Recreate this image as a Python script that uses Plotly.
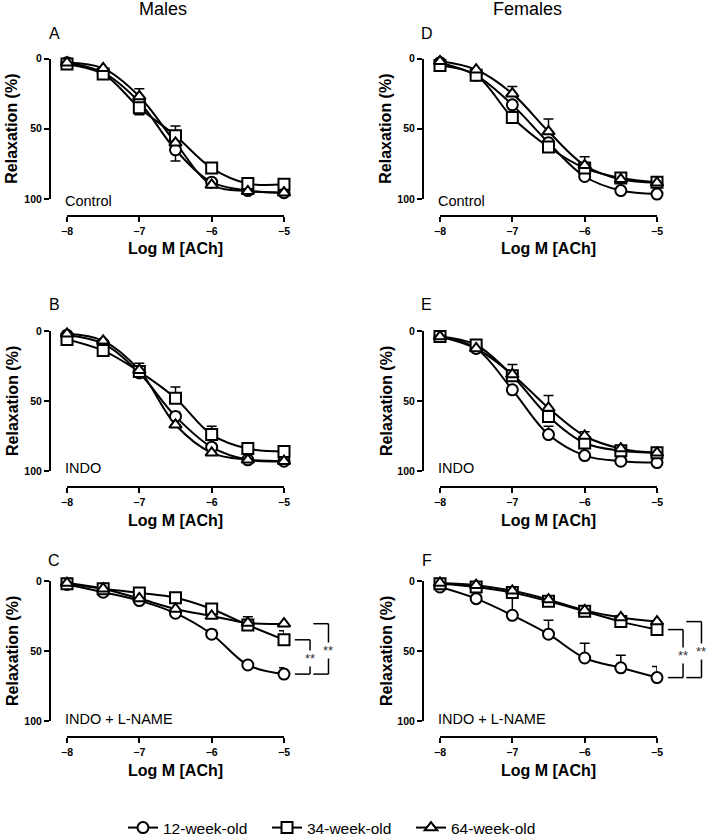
import plotly.graph_objects as go

W, H = 709, 837
FONT = "Liberation Sans, Arial, sans-serif"

# ---------------- data ----------------
log_ach = [-8, -7.5, -7, -6.5, -6, -5.5, -5]
age_groups = ["12-week-old", "34-week-old", "64-week-old"]
x_ticks = [-8, -7, -6, -5]
y_ticks = [0, 50, 100]

# A: Males, Control
a_12 = [3, 10, 31, 65, 88, 94, 95.5]
a_34 = [4, 11, 35, 55, 78, 89, 89.5]
a_64 = [3, 7, 27, 60, 90, 94.5, 95.5]
a_12_up = [0, 0, 0, 0, 0, 0, 0]
a_12_dn = [0, 0, 0, 8, 0, 0, 0]
a_34_up = [0, 0, 0, 7, 0, 0, 0]
a_34_dn = [0, 0, 5, 0, 0, 0, 0]
a_64_up = [0, 0, 5.5, 0, 0, 0, 0]
a_64_dn = [0, 0, 0, 0, 0, 0, 0]

# B: Males, INDO
b_12 = [3, 9, 30, 61, 83, 92, 93]
b_34 = [6, 14, 29, 48, 74, 84, 86]
b_64 = [2, 7, 28, 67, 87, 92, 93]
b_12_up = [0, 0, 0, 3, 0, 0, 0]
b_12_dn = [0, 0, 0, 0, 0, 0, 0]
b_34_up = [0, 0, 0, 8, 6, 0, 0]
b_34_dn = [0, 0, 0, 0, 0, 0, 0]
b_64_up = [0, 0, 5, 0, 0, 0, 0]
b_64_dn = [0, 0, 0, 0, 0, 0, 0]

# C: Males, INDO + L-NAME
c_12 = [2.5, 8, 14, 23, 38, 60, 66.5]
c_34 = [2, 5.5, 8.5, 12, 20, 31.5, 42]
c_64 = [1.5, 5.5, 12.5, 20, 25, 30, 30.5]
c_12_up = [0, 0, 0, 0, 3, 0, 4.5]
c_12_dn = [0, 0, 0, 0, 0, 0, 0]
c_34_up = [0, 0, 0, 0, 0, 6, 6.5]
c_34_dn = [0, 0, 0, 0, 0, 0, 0]
c_64_up = [0, 0, 0, 0, 0, 0, 0]
c_64_dn = [0, 0, 0, 0, 0, 0, 0]

# D: Females, Control
d_12 = [3, 12, 33, 60, 84, 94, 96.5]
d_34 = [5, 12, 42, 63, 78, 85, 88]
d_64 = [2, 8, 25, 52, 76, 86, 88.5]
d_12_up = [0, 0, 0, 0, 0, 0, 0]
d_12_dn = [0, 0, 0, 0, 0, 0, 0]
d_34_up = [0, 0, 0, 0, 0, 0, 0]
d_34_dn = [0, 0, 0, 0, 0, 0, 0]
d_64_up = [0, 0, 5, 9, 6, 0, 0]
d_64_dn = [0, 0, 0, 0, 0, 0, 0]

# E: Females, INDO
e_12 = [4, 12.5, 42, 74, 89, 93, 94]
e_34 = [4, 10, 32, 61, 80, 85.5, 87]
e_64 = [4, 12.5, 31, 55, 75, 84, 87]
e_12_up = [0, 0, 0, 6, 0, 0, 0]
e_12_dn = [0, 0, 0, 0, 0, 0, 0]
e_34_up = [0, 0, 0, 0, 0, 0, 0]
e_34_dn = [0, 0, 0, 0, 0, 0, 0]
e_64_up = [0, 0, 7, 9, 3, 0, 0]
e_64_dn = [0, 0, 0, 0, 0, 0, 0]

# F: Females, INDO + L-NAME
f_12 = [4.3, 12.6, 24.5, 38, 55, 62, 69]
f_34 = [2, 4.3, 8.3, 14.5, 21.6, 29, 34.7]
f_64 = [1.4, 3, 7, 13.3, 21, 26, 29]
f_12_up = [0, 0, 14.7, 10, 10.5, 9, 8]
f_12_dn = [0, 0, 0, 0, 0, 0, 0]
f_34_up = [0, 0, 0, 0, 0, 0, 0]
f_34_dn = [0, 0, 0, 0, 0, 0, 0]
f_64_up = [0, 0, 0, 0, 0, 0, 0]
f_64_dn = [0, 0, 0, 0, 0, 0, 0]

panel_letters = ["A", "B", "C", "D", "E", "F"]
conditions = ["Control", "INDO", "INDO + L-NAME", "Control", "INDO", "INDO + L-NAME"]
column_titles = ["Males", "Females"]

panels = [
    dict(series=[a_12, a_34, a_64], up=[a_12_up, a_34_up, a_64_up], dn=[a_12_dn, a_34_dn, a_64_dn], col=0, row=0),
    dict(series=[b_12, b_34, b_64], up=[b_12_up, b_34_up, b_64_up], dn=[b_12_dn, b_34_dn, b_64_dn], col=0, row=1),
    dict(series=[c_12, c_34, c_64], up=[c_12_up, c_34_up, c_64_up], dn=[c_12_dn, c_34_dn, c_64_dn], col=0, row=2),
    dict(series=[d_12, d_34, d_64], up=[d_12_up, d_34_up, d_64_up], dn=[d_12_dn, d_34_dn, d_64_dn], col=1, row=0),
    dict(series=[e_12, e_34, e_64], up=[e_12_up, e_34_up, e_64_up], dn=[e_12_dn, e_34_dn, e_64_dn], col=1, row=1),
    dict(series=[f_12, f_34, f_64], up=[f_12_up, f_34_up, f_64_up], dn=[f_12_dn, f_34_dn, f_64_dn], col=1, row=2),
]

# ---------------- layout geometry (pixels) ----------------
symbols = ["circle", "square", "triangle-up"]
col_x = [(67, 284), (440, 657)]        # x=-8 .. x=-5
col_yaxis = [50, 423]                  # y-axis line x
row_y = [(58.5, 199, 216), (331, 471, 487), (581, 721, 737)]  # y=0, y=100, x-axis line
letter_y = [34, 304, 560]
cond_y = [201, 468, 719]
xtitle_y = [248, 520, 770]
ytitle_x = [12, 386]


def fx(px):
    return px / W


def fy(py):
    return 1 - py / H


fig = go.Figure()
layout = dict(
    width=W, height=H,
    margin=dict(l=0, r=0, t=0, b=0, autoexpand=False),
    paper_bgcolor="white", plot_bgcolor="white",
    font=dict(family=FONT, color="black"),
    showlegend=True,
)
annotations = []
shapes = []


def label(text, x, y, size, xanchor="center", yanchor="middle", xref="paper", yref="paper", **kw):
    d = dict(text=text, x=x, y=y, xref=xref, yref=yref, xanchor=xanchor,
             yanchor=yanchor, showarrow=False,
             font=dict(size=size, family=FONT, color=kw.pop("color", "black"),
                       weight=kw.pop("weight", "normal")))
    d.update(kw)
    annotations.append(d)


for k, p in enumerate(panels, start=1):
    xa = "x" if k == 1 else f"x{k}"
    ya = "y" if k == 1 else f"y{k}"
    xl, xr = col_x[p["col"]]
    y0, y100, xline = row_y[p["row"]]
    axis_common = dict(
        showline=True, linewidth=2, linecolor="black",
        ticks="outside", ticklen=5, tickwidth=2, tickcolor="black",
        showgrid=False, zeroline=False,
        tickfont=dict(family=FONT, size=10.5, color="black", weight="bold"),
        anchor="free", fixedrange=True, automargin=False,
    )
    layout["xaxis" if k == 1 else f"xaxis{k}"] = dict(
        axis_common, domain=[fx(xl), fx(xr)], range=[-8, -5],
        position=fy(xline), tickvals=x_ticks)
    layout["yaxis" if k == 1 else f"yaxis{k}"] = dict(
        axis_common, domain=[fy(y100), fy(y0)], range=[100, 0],
        position=fx(col_yaxis[p["col"]]), tickvals=y_ticks)

    # fitted curves
    for s in range(3):
        fig.add_trace(go.Scatter(
            x=log_ach, y=p["series"][s], mode="lines",
            line=dict(color="black", width=2, shape="spline", smoothing=1.0),
            xaxis=xa, yaxis=ya, showlegend=False, hoverinfo="skip"))
    # markers with one-sided error bars
    for s in range(3):
        fig.add_trace(go.Scatter(
            x=log_ach, y=p["series"][s], mode="markers",
            marker=dict(symbol=symbols[s], size=11, color="white",
                        line=dict(color="black", width=2)),
            error_y=dict(type="data", symmetric=False, array=p["dn"][s],
                         arrayminus=p["up"][s], color="black",
                         thickness=1.5, width=5),
            cliponaxis=False, xaxis=xa, yaxis=ya, showlegend=False,
            name=age_groups[s]))

    label(panel_letters[k - 1], fx(col_yaxis[p["col"]] + 4), fy(letter_y[p["row"]]), 16)
    label(conditions[k - 1], fx(xl - 4), fy(cond_y[p["row"]]), 14.5, xanchor="left")
    label("Log M [ACh]", fx((xl + xr) / 2), fy(xtitle_y[p["row"]]), 16, weight="bold")
    label("Relaxation (%)", fx(ytitle_x[p["col"]]), fy((y0 + y100) / 2), 16,
          weight="bold", textangle=-90)

    # significance brackets (panels C and F)
    if conditions[k - 1] == "INDO + L-NAME":
        ser = p["series"]
        xd = f"{xa} domain"
        brackets = [(ser[1][-1], ser[0][-1], 1.05, 1.12), (ser[2][-1], ser[0][-1], 1.135, 1.205)]
        for top, bot, b0, b1 in brackets:
            for (xa0, ya0, xa1, ya1) in [(b0, top, b1, top), (b1, top, b1, bot), (b1, bot, b0, bot)]:
                shapes.append(dict(type="line", xref=xd, yref=ya,
                                   x0=xa0, y0=ya0, x1=xa1, y1=ya1,
                                   line=dict(color="black", width=1.5)))
            label("**", b1, (top + bot) / 2, 13, xref=xd, yref=ya, color="#333",
                  bgcolor="white", borderpad=0, yshift=-2)

# column titles
for c, title in enumerate(column_titles):
    label(title, fx([163, 527][c]), fy(9), 18)

# legend entries
for s in range(3):
    fig.add_trace(go.Scatter(
        x=[None], y=[None], mode="lines+markers", name=age_groups[s],
        marker=dict(symbol=symbols[s], size=11, color="white",
                    line=dict(color="black", width=2)),
        line=dict(color="black", width=2), showlegend=True))

layout["legend"] = dict(
    orientation="h", x=fx(123), xanchor="left", y=fy(828), yanchor="middle",
    font=dict(size=15.5, family=FONT, color="black"), itemwidth=30,
    entrywidth=99, bgcolor="rgba(0,0,0,0)", traceorder="normal")
layout["annotations"] = annotations
layout["shapes"] = shapes
fig.update_layout(**layout)

fig.write_html("out.html", config={"displayModeBar": False},
               post_script="document.body.style.margin='0px';")
